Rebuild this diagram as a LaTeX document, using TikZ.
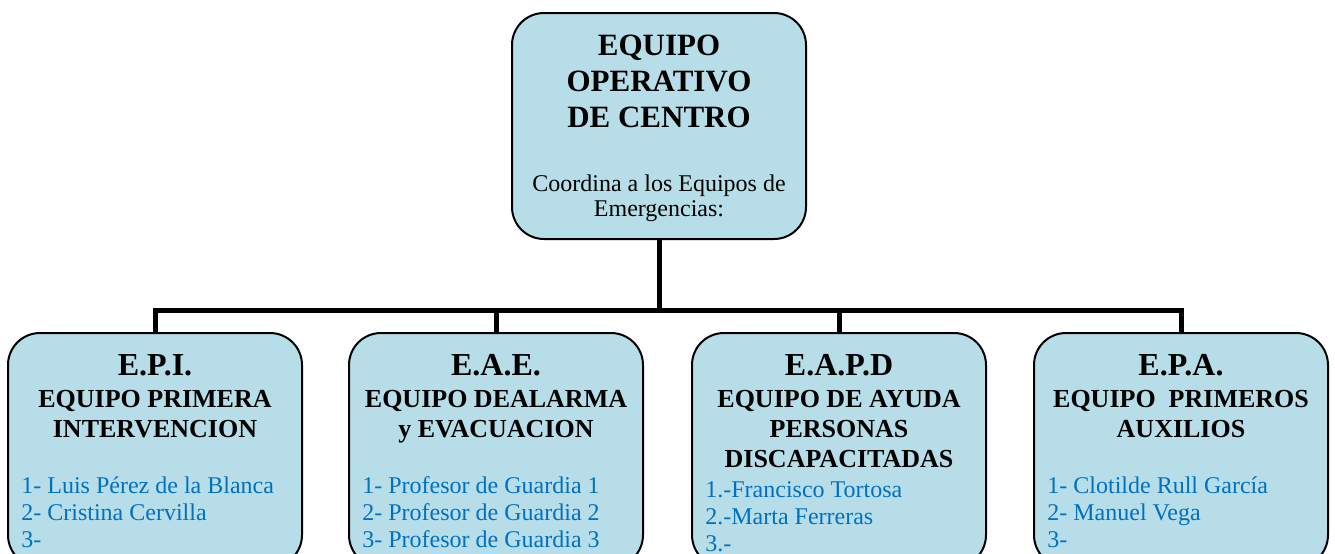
\documentclass[tikz,border=0pt]{standalone}
\usepackage{fontspec}
\setmainfont{Liberation Serif}
\definecolor{teamfill}{HTML}{B7DEE8}
\definecolor{memberblue}{HTML}{0070C0}

\begin{document}
\begin{tikzpicture}[
		x=0.5pt, y=-0.5pt,
		team/.style={draw, line width=1pt, fill=teamfill, rounded corners=16pt, minimum width=147pt, inner sep=0pt},
		acronym/.style={font=\fontsize{16}{16}\selectfont\bfseries, inner sep=0pt, anchor=base},
		teamname/.style={font=\fontsize{13}{15}\selectfont\bfseries, align=center, inner sep=0pt, anchor=base},
		members/.style={font=\fontsize{12}{13.5}\selectfont, text=memberblue, align=left, inner sep=0pt, anchor=base west},
		link/.style={line width=2.5pt}
	]
  \clip (0,0) rectangle (1335,553);
  % coordinating team
  \node (oc) [team, minimum height=113pt] at (659,126) {};
  \node (oc_name) [teamname, font=\fontsize{15.5}{18}\selectfont\bfseries] at (659,127) {EQUIPO\\OPERATIVO\\DE CENTRO};
  \node (oc_note) [teamname, font=\fontsize{12}{12.5}\selectfont] at (659,216) {Coordina a los Equipos de\\Emergencias:};
  % emergency teams
  \node (epi) [team, minimum height=117pt] at (155,450) {};
  \node (epi_tag) [acronym] at (155,375) {E.P.I.};
  \node (epi_name) [teamname] at (155,437) {EQUIPO PRIMERA\\INTERVENCION};
  \node (epi_list) [members] at (21,547) {1- Luis Pérez de la Blanca\\2- Cristina Cervilla\\3-};
  \node (eae) [team, minimum height=117pt] at (496,450) {};
  \node (eae_tag) [acronym] at (496,375) {E.A.E.};
  \node (eae_name) [teamname] at (496,437) {EQUIPO DEALARMA\\y EVACUACION};
  \node (eae_list) [members] at (362,547) {1- Profesor de Guardia 1\\2- Profesor de Guardia 2\\3- Profesor de Guardia 3};
  \node (eapd) [team, minimum height=117pt] at (839,450) {};
  \node (eapd_tag) [acronym] at (839,375) {E.A.P.D};
  \node (eapd_name) [teamname] at (839,467) {EQUIPO DE AYUDA\\PERSONAS\\DISCAPACITADAS};
  \node (eapd_list) [members] at (705,551) {1.-Francisco Tortosa\\2.-Marta Ferreras\\3.-};
  \node (epa) [team, minimum height=117pt] at (1181,450) {};
  \node (epa_tag) [acronym] at (1181,375) {E.P.A.};
  \node (epa_name) [teamname] at (1181,437) {EQUIPO\ \ PRIMEROS\\AUXILIOS};
  \node (epa_list) [members] at (1047,547) {1- Clotilde Rull García\\2- Manuel Vega\\3-};
  % connectors
  \coordinate (bus) at (0,310);
  \draw [link] (oc.south) -- (oc.south |- bus);
  \draw [link] (epi.north) -- (epi.north |- bus) -- (epa.north |- bus) -- (epa.north);
  \draw [link] (eae.north) -- (eae.north |- bus);
  \draw [link] (eapd.north) -- (eapd.north |- bus);
\end{tikzpicture}
\end{document}
